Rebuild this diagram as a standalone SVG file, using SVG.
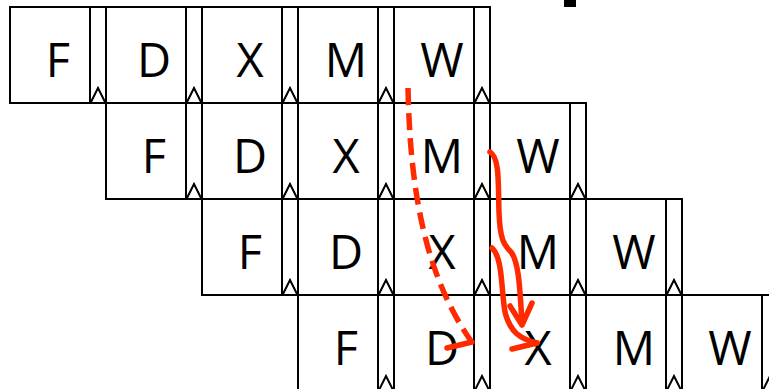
<svg xmlns="http://www.w3.org/2000/svg" xmlns:xlink="http://www.w3.org/1999/xlink" width="769" height="389" viewBox="0 0 769 389">
<style>
.box{fill:#fff;stroke:#000;stroke-width:2}
.lt{fill:none;stroke:#000;stroke-width:2}
.lbl{font-family:"Open Sans","Liberation Sans",sans-serif;font-size:47px;fill:#000;text-anchor:middle}
.red{fill:none;stroke:#FF2A00;stroke-width:5.5;stroke-linecap:round;stroke-linejoin:round}
.dash{stroke-dasharray:17 8;stroke-linecap:butt}
</style>
<defs>
<g id="latch">
<rect class="lt" x="0" y="0" width="16" height="96"/>
<polyline class="lt" points="1,95 8,81 15,95"/>
</g>
</defs>
<rect x="564" y="0" width="12" height="7" fill="#000"/>
<g id="row1">
<g id="r1-F"><rect class="box" x="10" y="7" width="80" height="96"/><use xlink:href="#latch" x="90" y="7"/><text class="lbl" x="58" y="77">F</text></g>
<g id="r1-D"><rect class="box" x="106" y="7" width="80" height="96"/><use xlink:href="#latch" x="186" y="7"/><text class="lbl" x="154" y="77">D</text></g>
<g id="r1-X"><rect class="box" x="202" y="7" width="80" height="96"/><use xlink:href="#latch" x="282" y="7"/><text class="lbl" x="250" y="77">X</text></g>
<g id="r1-M"><rect class="box" x="298" y="7" width="80" height="96"/><use xlink:href="#latch" x="378" y="7"/><text class="lbl" x="346" y="77">M</text></g>
<g id="r1-W"><rect class="box" x="394" y="7" width="80" height="96"/><use xlink:href="#latch" x="474" y="7"/><text class="lbl" x="442" y="77">W</text></g>
</g>
<g id="row2">
<g id="r2-F"><rect class="box" x="106" y="103" width="80" height="96"/><use xlink:href="#latch" x="186" y="103"/><text class="lbl" x="154" y="173">F</text></g>
<g id="r2-D"><rect class="box" x="202" y="103" width="80" height="96"/><use xlink:href="#latch" x="282" y="103"/><text class="lbl" x="250" y="173">D</text></g>
<g id="r2-X"><rect class="box" x="298" y="103" width="80" height="96"/><use xlink:href="#latch" x="378" y="103"/><text class="lbl" x="346" y="173">X</text></g>
<g id="r2-M"><rect class="box" x="394" y="103" width="80" height="96"/><use xlink:href="#latch" x="474" y="103"/><text class="lbl" x="442" y="173">M</text></g>
<g id="r2-W"><rect class="box" x="490" y="103" width="80" height="96"/><use xlink:href="#latch" x="570" y="103"/><text class="lbl" x="538" y="173">W</text></g>
</g>
<g id="row3">
<g id="r3-F"><rect class="box" x="202" y="199" width="80" height="96"/><use xlink:href="#latch" x="282" y="199"/><text class="lbl" x="250" y="269">F</text></g>
<g id="r3-D"><rect class="box" x="298" y="199" width="80" height="96"/><use xlink:href="#latch" x="378" y="199"/><text class="lbl" x="346" y="269">D</text></g>
<g id="r3-X"><rect class="box" x="394" y="199" width="80" height="96"/><use xlink:href="#latch" x="474" y="199"/><text class="lbl" x="442" y="269">X</text></g>
<g id="r3-M"><rect class="box" x="490" y="199" width="80" height="96"/><use xlink:href="#latch" x="570" y="199"/><text class="lbl" x="538" y="269">M</text></g>
<g id="r3-W"><rect class="box" x="586" y="199" width="80" height="96"/><use xlink:href="#latch" x="666" y="199"/><text class="lbl" x="634" y="269">W</text></g>
</g>
<g id="row4">
<g id="r4-F"><rect class="box" x="298" y="295" width="80" height="96"/><use xlink:href="#latch" x="378" y="295"/><text class="lbl" x="346" y="365">F</text></g>
<g id="r4-D"><rect class="box" x="394" y="295" width="80" height="96"/><use xlink:href="#latch" x="474" y="295"/><text class="lbl" x="442" y="365">D</text></g>
<g id="r4-X"><rect class="box" x="490" y="295" width="80" height="96"/><use xlink:href="#latch" x="570" y="295"/><text class="lbl" x="538" y="365">X</text></g>
<g id="r4-M"><rect class="box" x="586" y="295" width="80" height="96"/><use xlink:href="#latch" x="666" y="295"/><text class="lbl" x="634" y="365">M</text></g>
<g id="r4-W"><rect class="box" x="682" y="295" width="80" height="96"/><use xlink:href="#latch" x="762" y="295"/><text class="lbl" x="730" y="365">W</text></g>
</g>
<g id="connectors">
<path class="red dash" d="M408,88 C410,190 425,275 471,341"/>
<path class="red" d="M447,348 L472,342"/>
<path class="red" d="M490,152 C500,158 498,185 499,212 C500,240 504,245 511,252 C519,262 520,290 522,324"/>
<path class="red" d="M510,306 L522,325 L532,303"/>
<path class="red" d="M492,248 C503,258 501,290 505,312 C510,332 520,339 537,343"/>
<path class="red" d="M512,349 L537,343"/>
</g>
</svg>
